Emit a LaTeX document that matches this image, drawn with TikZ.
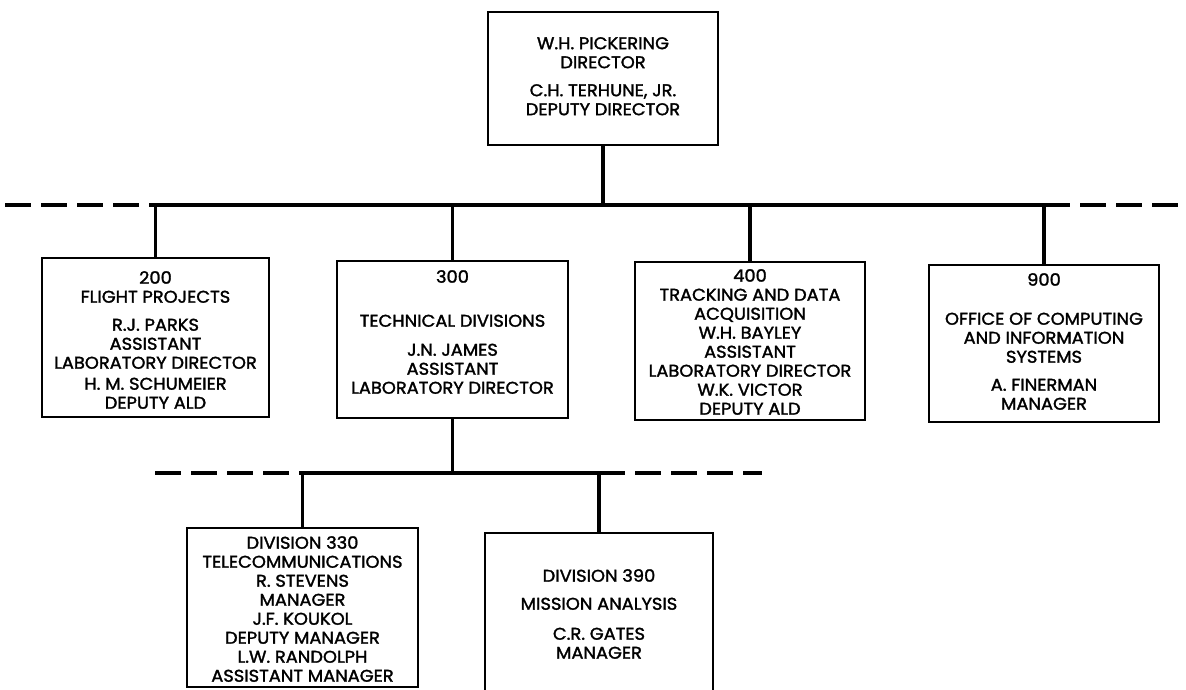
\documentclass[tikz,border=0pt]{standalone}
\usepackage{fontspec}
\newfontfamily\chartfont[FakeBold=1.7,FakeStretch=1.05]{Poppins}
\begin{document}
\begin{tikzpicture}[x=1pt,y=-1pt,
  box/.style={draw, line width=2.8pt, inner sep=0pt, rectangle},
  txt/.style={align=center, inner sep=0pt, anchor=north,
              font=\chartfont\fontsize{17}{19}\selectfont},
  conn/.style={line width=3.2pt},
  dashbus/.style={line width=3.2pt, dash pattern=on 26pt off 10pt}]
\useasboundingbox (0,0) rectangle (1186,690);

% boxes
\node[box, minimum width=230pt, minimum height=133pt] (top)  at (603,78.5) {};
\node[box, minimum width=227pt, minimum height=159pt] (b200) at (155.5,337.5) {};
\node[box, minimum width=231pt, minimum height=157pt] (b300) at (452.5,339.5) {};
\node[box, minimum width=230pt, minimum height=158pt] (b400) at (750,341) {};
\node[box, minimum width=230pt, minimum height=157pt] (b900) at (1044,343.5) {};
\node[box, minimum width=231pt, minimum height=159pt] (b330) at (302.5,607.5) {};
\node[box, minimum width=228pt, minimum height=159pt] (b390) at (599,612.5) {};

% box texts
\node[txt] (ttop) at (603,37) {W.H. PICKERING\\DIRECTOR\\[9pt]C.H. TERHUNE, JR.\\DEPUTY DIRECTOR};
\node[txt] (t200) at (155.5,271) {200\\FLIGHT PROJECTS\\[9pt]R.J. PARKS\\ASSISTANT\\LABORATORY DIRECTOR\\[2pt]H. M. SCHUMEIER\\DEPUTY ALD};
\node[txt] (t300) at (452.5,270) {300\\[25pt]TECHNICAL DIVISIONS\\[10pt]J.N. JAMES\\ASSISTANT\\LABORATORY DIRECTOR};
\node[txt] (t400) at (750,269) {400\\TRACKING AND DATA\\ACQUISITION\\W.H. BAYLEY\\ASSISTANT\\LABORATORY DIRECTOR\\W.K. VICTOR\\DEPUTY ALD};
\node[txt] (t900) at (1044,273) {900\\[20pt]OFFICE OF COMPUTING\\AND INFORMATION\\SYSTEMS\\[9pt]A. FINERMAN\\MANAGER};
\node[txt] (t330) at (302.5,536) {DIVISION 330\\TELECOMMUNICATIONS\\R. STEVENS\\MANAGER\\J.F. KOUKOL\\DEPUTY MANAGER\\L.W. RANDOLPH\\ASSISTANT MANAGER};
\node[txt] (t390) at (599,569) {DIVISION 390\\[9pt]MISSION ANALYSIS\\[11pt]C.R. GATES\\MANAGER};

% main bus
\coordinate (busL) at (5,205);
\coordinate (busR) at (1186,205);
\draw[conn] (top.south) -- (top.south |- busL);
\draw[conn] (b200.north |- busL) -- (b900.north |- busL);
\draw[dashbus] (busL) -- (b200.north |- busL);
\draw[dashbus] (b900.north |- busR) -- (busR);
\foreach \b in {b200,b300,b400,b900}
  \draw[conn] (\b.north) -- (\b.north |- busL);

% technical divisions bus
\coordinate (subL) at (155,473);
\coordinate (subR) at (762,473);
\draw[conn] (b300.south) -- (b300.south |- subL);
\draw[conn] (b330.north |- subL) -- (b390.north |- subL);
\draw[dashbus] (subL) -- (b330.north |- subL);
\draw[dashbus] (b390.north |- subR) -- (subR);
\foreach \b in {b330,b390}
  \draw[conn] (\b.north) -- (\b.north |- subL);
\end{tikzpicture}
\end{document}
